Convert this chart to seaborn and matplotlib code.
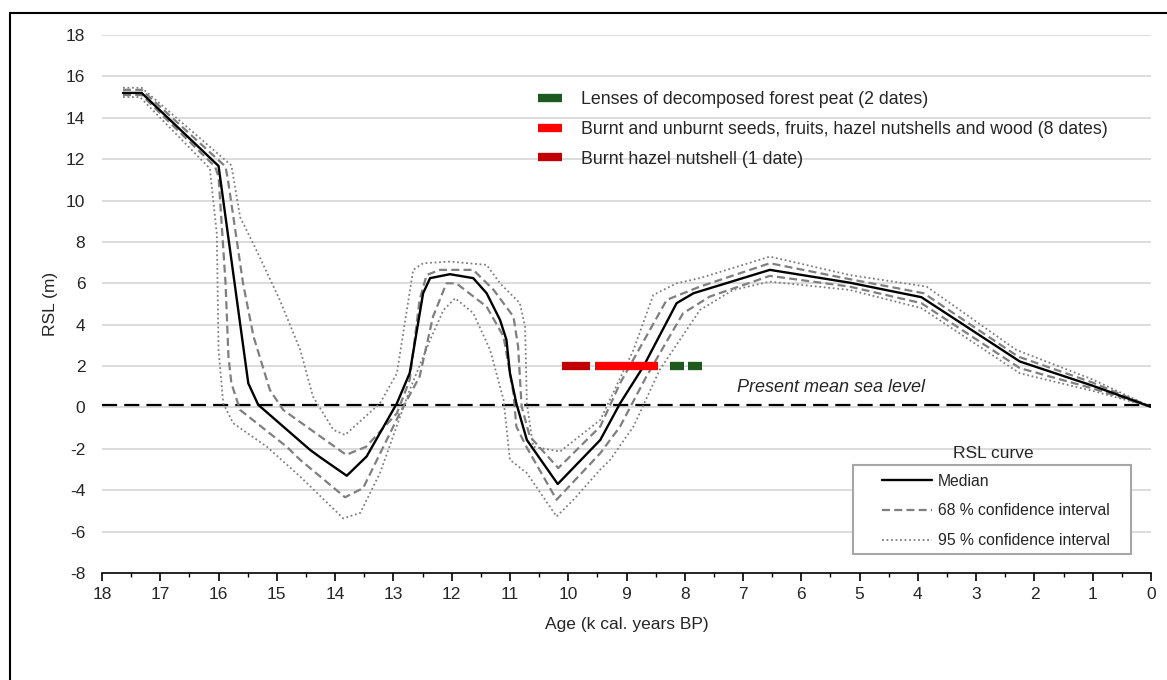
import numpy as np
import pandas as pd
import matplotlib
matplotlib.use("Agg")
import matplotlib.pyplot as plt
from matplotlib.lines import Line2D
from matplotlib.patches import Rectangle
import seaborn as sns

# ---------------- data ----------------
median_age = [17.64, 17.32, 16.0, 15.49, 15.32, 14.43, 14.26, 13.80, 13.46, 12.94, 12.72, 12.49, 12.37,
              12.03, 11.63, 11.40, 11.17, 11.06, 11.0, 10.89, 10.71, 10.18, 9.45, 9.11, 8.71, 8.14,
              7.85, 6.54, 5.17, 3.94, 2.25, 1.0, 0.0]
median_rsl = [15.2, 15.2, 11.67, 1.17, 0.13, -2.05, -2.4, -3.3, -2.37, 0.2, 1.66, 5.52, 6.25,
              6.44, 6.25, 5.52, 4.23, 3.27, 1.66, 0.2, -1.57, -3.7, -1.57, 0.2, 1.98, 5.04,
              5.52, 6.65, 6.03, 5.33, 2.22, 1.05, 0.03]

u68_age = [17.64, 17.32, 15.88, 15.83, 15.58, 15.40, 15.12, 14.89, 14.09, 13.81, 13.47, 12.94, 12.72,
           12.55, 12.43, 12.20, 11.63, 11.28, 10.94, 10.86, 10.80, 10.66, 10.17, 9.45, 9.11, 8.31,
           7.74, 6.54, 5.17, 3.90, 2.28, 1.0, 0.0]
u68_rsl = [15.35, 15.35, 11.64, 10.83, 6.0, 3.43, 0.85, -0.12, -1.73, -2.29, -1.9, -0.28, 1.33,
           5.2, 6.4, 6.65, 6.65, 5.68, 4.39, 2.94, 0.05, -1.4, -2.93, -0.92, 1.17, 5.2,
           5.84, 6.97, 6.2, 5.52, 2.46, 1.2, 0.03]

l68_age = [17.64, 17.32, 16.06, 16.0, 15.88, 15.83, 15.78, 15.63, 14.83, 14.6, 13.83, 13.52, 12.89,
           12.55, 12.32, 12.09, 11.92, 11.40, 11.11, 10.94, 10.89, 10.72, 10.20, 9.45, 9.11, 8.66,
           8.03, 7.57, 6.54, 5.17, 3.94, 2.25, 1.0, 0.0]
l68_rsl = [15.1, 15.1, 11.64, 11.15, 6.0, 2.46, 1.17, -0.12, -1.9, -2.53, -4.34, -3.9, -0.28,
           1.49, 4.39, 6.0, 6.0, 4.87, 3.43, 0.69, -0.92, -1.89, -4.46, -2.21, -0.92, 1.49,
           4.55, 5.36, 6.36, 5.84, 5.04, 1.9, 0.92, 0.03]

u95_age = [17.64, 17.32, 15.78, 15.63, 15.35, 14.95, 14.6, 14.38, 14.03, 13.83, 13.23, 12.94, 12.66,
           12.49, 12.03, 11.40, 11.17, 10.83, 10.74, 10.71, 10.60, 10.14, 9.45, 8.88, 8.54, 8.14,
           7.74, 6.54, 5.17, 3.85, 2.31, 1.0, 0.0]
u95_rsl = [15.45, 15.45, 11.7, 9.2, 7.6, 5.2, 2.8, 0.53, -1.08, -1.33, 0.2, 1.65, 6.65,
           6.97, 7.05, 6.89, 6.0, 5.04, 3.9, 0.2, -1.9, -2.13, -0.6, 2.78, 5.44, 6.0,
           6.25, 7.29, 6.4, 5.84, 2.78, 1.35, 0.03]

l95_age = [17.64, 17.35, 16.15, 16.03, 16.0, 15.92, 15.75, 15.17, 14.6, 13.86, 13.57, 13.23, 12.72,
           12.37, 12.14, 11.94, 11.63, 11.34, 11.11, 11.0, 10.71, 10.20, 9.91, 9.45, 9.28, 8.88,
           8.43, 7.74, 7.17, 6.54, 5.17, 3.94, 2.25, 1.0, 0.0]
l95_rsl = [15.0, 15.0, 11.55, 8.4, 2.78, 0.2, -0.76, -1.9, -3.34, -5.36, -5.1, -3.17, 0.85,
           3.26, 4.71, 5.28, 4.56, 2.78, 0.37, -2.53, -3.17, -5.27, -4.46, -3.0, -2.53, -0.92,
           1.82, 4.71, 5.68, 6.08, 5.68, 4.8, 1.65, 0.8, 0.03]

sea_level = 0.1

# dated material bars (age start, age end, RSL)
peat_start = [8.25, 7.94]
peat_end = [8.01, 7.70]
peat_rsl = [2.0, 2.0]
seeds_start = [9.54]
seeds_end = [8.46]
seeds_rsl = [2.0]
hazel_start = [10.11]
hazel_end = [9.62]
hazel_rsl = [2.0]

legend_top_labels = ["Lenses of decomposed forest peat (2 dates)",
                     "Burnt and unburnt seeds, fruits, hazel nutshells and wood (8 dates)",
                     "Burnt hazel nutshell (1 date)"]
curve_labels = ["Median", "68 % confidence interval", "95 % confidence interval"]
x_ticks = list(range(0, 19))
y_ticks = list(range(-8, 19, 2))

# ---------------- style ----------------
sns.set_style("white")
plt.rcParams['font.family'] = ['Liberation Sans', 'DejaVu Sans']

W, H = 1167, 680
fig = plt.figure(figsize=(W / 100, H / 100), dpi=100)
ax = fig.add_axes([102 / W, 1 - 573 / H, (1151 - 102) / W, (573 - 35) / H])

col_green = "#1e5a20"
col_red = "#ff0000"
col_dred = "#c00000"
gray = "#7f7f7f"
dash68 = (0, (3.6, 1.9))
dot95 = (0, (1, 1.5))

# gridlines
for yv in y_ticks[1:]:
    ax.axhline(yv, color="#d9d9d9", lw=1.3, zorder=0)

# mean sea level
ax.axhline(sea_level, color="black", lw=1.6, dashes=(6.8, 3.2), zorder=1)
ax.text(7.10, 0.55, "Present mean sea level", style="italic", fontsize=13, ha="left", va="bottom")

def draw_curve(ages, vals, **kw):
    df = pd.DataFrame({"age": ages, "rsl": vals})
    sns.lineplot(data=df, x="age", y="rsl", sort=False, estimator=None, ax=ax, **kw)

draw_curve(u95_age, u95_rsl, color=gray, lw=1.3, linestyle=dot95, zorder=2)
draw_curve(l95_age, l95_rsl, color=gray, lw=1.3, linestyle=dot95, zorder=2)
draw_curve(u68_age, u68_rsl, color=gray, lw=1.6, linestyle=dash68, zorder=3)
draw_curve(l68_age, l68_rsl, color=gray, lw=1.6, linestyle=dash68, zorder=3)
draw_curve(median_age, median_rsl, color="black", lw=1.7, zorder=4)

bar_lw = 6.0
for s, e, r in zip(hazel_start, hazel_end, hazel_rsl):
    ax.plot([s, e], [r, r], color=col_dred, lw=bar_lw, solid_capstyle="butt", zorder=5)
for s, e, r in zip(seeds_start, seeds_end, seeds_rsl):
    ax.plot([s, e], [r, r], color=col_red, lw=bar_lw, solid_capstyle="butt", zorder=5)
for s, e, r in zip(peat_start, peat_end, peat_rsl):
    ax.plot([s, e], [r, r], color=col_green, lw=bar_lw, solid_capstyle="butt", zorder=5)

# axes
ax.set_xlim(18, 0)
ax.set_ylim(-8, 18)
ax.set_xticks(x_ticks)
ax.set_xticklabels([str(t) for t in x_ticks])
ax.set_xticks(np.arange(0.5, 18, 1.0), minor=True)
ax.set_yticks(y_ticks)
ax.set_yticklabels([str(t) for t in y_ticks])
for sp in ["top", "right", "left"]:
    ax.spines[sp].set_visible(False)
ax.spines["bottom"].set_color("black")
ax.spines["bottom"].set_linewidth(1.2)
ax.tick_params(axis="x", which="major", direction="out", length=6, width=1.2, color="black",
               labelsize=12.5, pad=4, bottom=True)
ax.tick_params(axis="x", which="minor", direction="out", length=3, width=1.0, color="black", bottom=True)
ax.tick_params(axis="y", which="both", length=0, labelsize=12.5, pad=12)
ax.set_xlabel("Age (k cal. years BP)", fontsize=12.5, labelpad=11)
ax.set_ylabel("RSL (m)", fontsize=12.5, labelpad=6)

# top legend (dated material)
h_top = [Line2D([], [], color=c, lw=bar_lw, solid_capstyle="butt") for c in (col_green, col_red, col_dred)]
leg1 = ax.legend(h_top, legend_top_labels, loc="upper left", bbox_to_anchor=(538 / W, 1 - 91 / H),
                 bbox_transform=fig.transFigure, frameon=False, fontsize=12.8, handlelength=1.35,
                 handletextpad=1.07, labelspacing=0.72, borderpad=0, borderaxespad=0)
ax.add_artist(leg1)

# RSL curve legend (frame drawn separately so the title sits above it)
frame = Rectangle((853 / W, 1 - 554 / H), (1131 - 853) / W, (554 - 465) / H,
                  transform=fig.transFigure, facecolor="white", edgecolor="#a6a6a6",
                  lw=1.5, zorder=6, clip_on=False)
ax.add_patch(frame)
h_curve = [Line2D([], [], color="black", lw=1.7),
           Line2D([], [], color=gray, lw=1.6, linestyle=dash68),
           Line2D([], [], color=gray, lw=1.3, linestyle=dot95)]
leg2 = ax.legend(h_curve, curve_labels, loc="upper left", bbox_to_anchor=(882 / W, 1 - 473.5 / H),
                 bbox_transform=fig.transFigure, frameon=False, fontsize=11.3,
                 handlelength=3.2, handletextpad=0.38, labelspacing=0.94, borderpad=0,
                 borderaxespad=0)
leg2.set_zorder(8)
fig.text(993 / W, 1 - 453 / H, "RSL curve", fontsize=12.5, ha="center", va="center")

# figure border (left and top)
fig.add_artist(Line2D([10 / W, 10 / W], [0, 1 - 13 / H], transform=fig.transFigure,
                      color="black", lw=1.5))
fig.add_artist(Line2D([10 / W, 1], [1 - 13 / H, 1 - 13 / H], transform=fig.transFigure,
                      color="black", lw=1.5))

fig.savefig("out.png", dpi=100)
